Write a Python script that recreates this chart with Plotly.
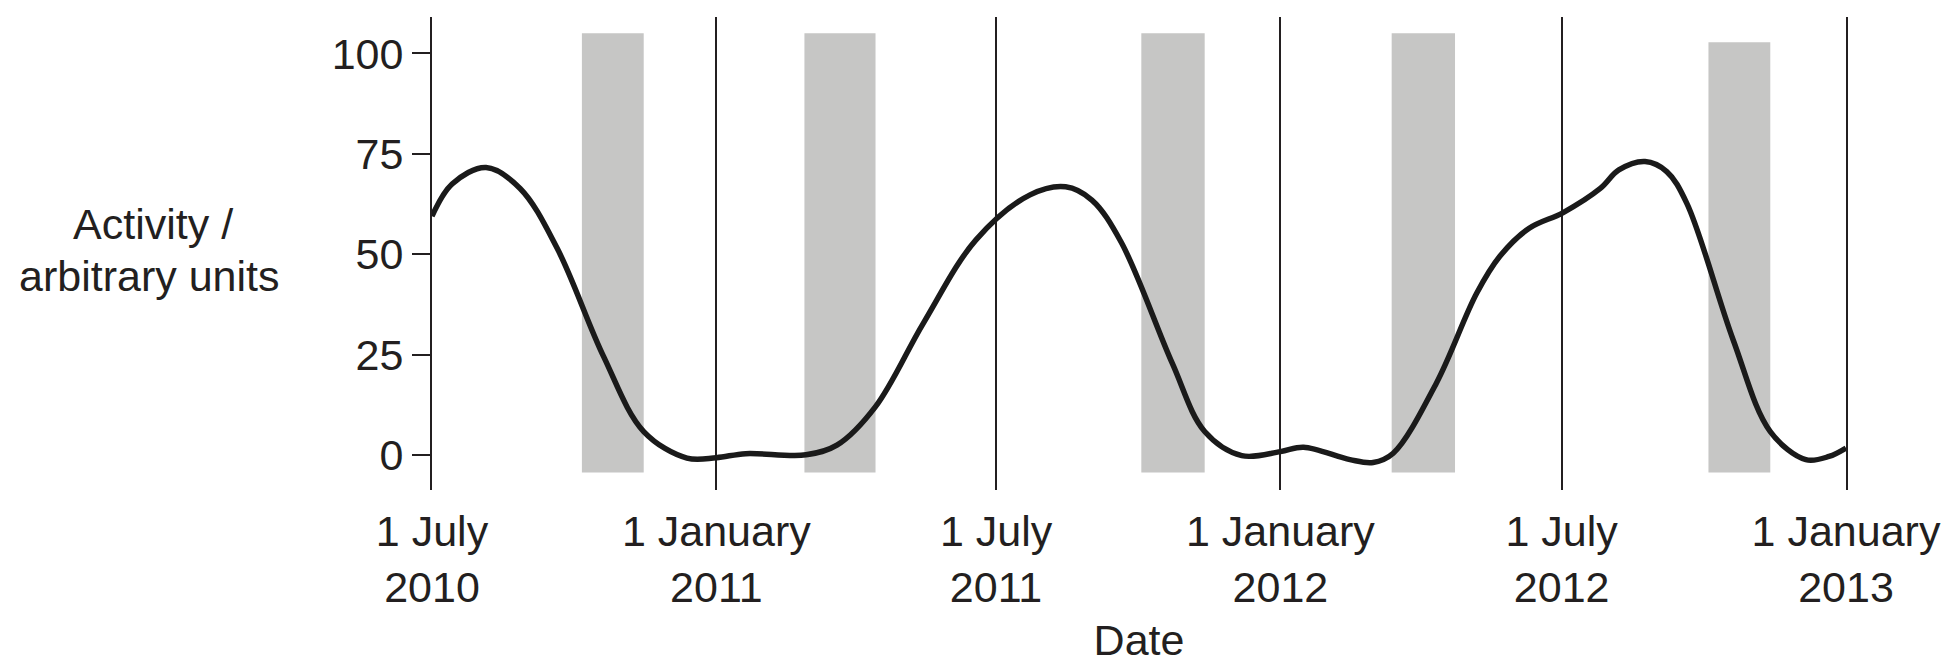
import plotly.graph_objects as go

# ---- data ----
curve_dates = [
    "2010-07-01", "2010-07-14", "2010-08-05", "2010-08-27", "2010-09-20", "2010-10-20",
    "2010-11-15", "2010-12-13", "2011-01-01", "2011-01-20", "2011-02-28", "2011-03-20",
    "2011-04-14", "2011-05-15", "2011-06-18", "2011-07-23", "2011-08-15", "2011-09-01",
    "2011-09-20", "2011-10-23", "2011-11-13", "2011-12-07", "2012-01-01", "2012-01-16",
    "2012-02-15", "2012-03-01", "2012-03-14", "2012-04-11", "2012-05-07", "2012-05-22",
    "2012-06-10", "2012-07-02", "2012-07-26", "2012-08-07", "2012-08-24", "2012-09-07",
    "2012-09-20", "2012-10-20", "2012-11-13", "2012-12-06", "2012-12-21", "2013-01-01",
]
activity = [
    59.5, 67.5, 71.6, 66.4, 51.5, 24.6,
    5.9, -0.7, -0.6, 0.4, 0.1, 2.5,
    12.1, 32.9, 53.6, 64.8, 66.8, 63.5,
    53.0, 22.9, 5.9, -0.1, 0.9, 2.0,
    -1.1, -1.8, 0.5, 18.0, 40.3, 49.5,
    56.5, 60.4, 66.4, 71.0, 73.1, 70.6,
    62.7, 28.7, 5.9, -1.1, -0.3, 1.8,
]

shade_starts = ["2010-10-06", "2011-02-27", "2011-10-03", "2012-03-13", "2012-10-04"]
shade_ends = ["2010-11-15", "2011-04-14", "2011-11-13", "2012-04-23", "2012-11-13"]
shade_tops = [105, 105, 105, 105, 102.8]
shade_bottom = -4.3

x_tickvals = ["2010-07-01", "2011-01-01", "2011-07-01", "2012-01-01", "2012-07-01", "2013-01-01"]
x_ticktext = ["1 July<br>2010", "1 January<br>2011", "1 July<br>2011",
              "1 January<br>2012", "1 July<br>2012", "1 January<br>2013"]
y_tickvals = [0, 25, 50, 75, 100]

ink = "#231f20"
font_family = "Liberation Sans, Arial, sans-serif"
fs = 43

fig = go.Figure()

fig.add_trace(go.Scatter(
    x=curve_dates, y=activity, mode="lines",
    line=dict(color="#1a1a1a", width=5.5, shape="spline", smoothing=1.0),
    hoverinfo="skip", showlegend=False,
))

for s, e, top in zip(shade_starts, shade_ends, shade_tops):
    fig.add_shape(type="rect", xref="x", yref="y", x0=s, x1=e, y0=shade_bottom, y1=top,
                  fillcolor="#c6c6c5", line=dict(width=0), layer="below")

fig.add_annotation(text="Activity /", xref="paper", yref="paper", x=-0.1973, y=0.563,
                   xanchor="center", yanchor="middle", showarrow=False,
                   font=dict(size=fs, color=ink, family=font_family))
fig.add_annotation(text="arbitrary units", xref="paper", yref="paper", x=-0.2001, y=0.4515,
                   xanchor="center", yanchor="middle", showarrow=False,
                   font=dict(size=fs, color=ink, family=font_family))

fig.update_layout(
    width=1952, height=667,
    margin=dict(l=432, r=106, t=17, b=177),
    paper_bgcolor="white", plot_bgcolor="white",
    font=dict(family=font_family, size=fs, color=ink),
    xaxis=dict(
        type="date", range=["2010-07-01", "2013-01-01"],
        tickvals=x_tickvals, ticktext=x_ticktext, ticks="",
        showgrid=True, gridcolor=ink, gridwidth=2,
        showline=False, zeroline=False,
        ticklabelstandoff=12,
        tickfont=dict(size=fs, color=ink),
        title=dict(text="Date", font=dict(size=fs, color=ink), standoff=14),
    ),
    yaxis=dict(
        range=[-8.65, 109.07], tickvals=y_tickvals,
        ticks="outside", ticklen=18, tickwidth=2, tickcolor=ink,
        showline=True, linecolor=ink, linewidth=2, mirror=True,
        showgrid=False, zeroline=False,
        tickfont=dict(size=fs, color=ink),
    ),
)

fig.write_html("out.html")
